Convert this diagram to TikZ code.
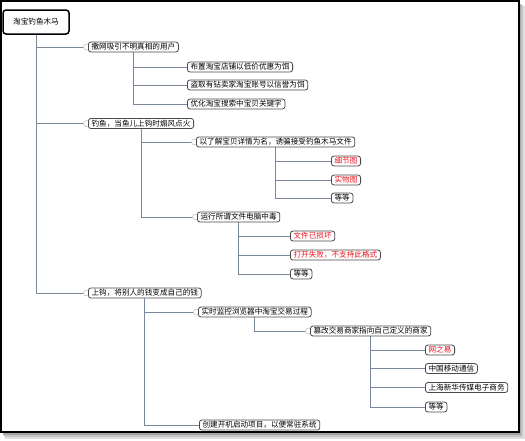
\documentclass[tikz,border=0pt]{standalone}
\usepackage{fontspec}
\newfontfamily\cjk{Noto Sans CJK SC}
\usetikzlibrary{backgrounds}
\definecolor{connc}{HTML}{7A8699}
\definecolor{boxc}{HTML}{4A4A4A}
\definecolor{redt}{HTML}{E8141E}
\tikzset{
  conn/.style={draw=connc, line width=1pt},
  mk/.style={draw=gray!45, line width=0.6pt, fill=white},
  topic/.style={draw=boxc, fill=white, rounded corners=2.5pt, line width=0.8pt,
    inner xsep=3.2pt, inner ysep=1.4pt, anchor=west, font=\cjk\fontsize{7.6pt}{8pt}\selectfont},
  redtopic/.style={topic, text=redt},
  rootbox/.style={draw=black, fill=white, rounded corners=3pt, line width=1.5pt,
    minimum width=66pt, minimum height=24pt, inner sep=0pt, font=\cjk\fontsize{7.6pt}{8pt}\selectfont}
}
\begin{document}
\begin{tikzpicture}[x=1pt,y=-1pt]
\useasboundingbox (0,0) rectangle (525,440);

\node[rootbox] (root) at (36,22) {淘宝钓鱼木马};

\node[topic] (n1) at (88,47) {撒网吸引不明真相的用户};
\node[topic] (n11) at (187,67) {布置淘宝店铺以低价优惠为饵};
\node[topic] (n12) at (187,85) {盗取有钻卖家淘宝账号以信誉为饵};
\node[topic] (n13) at (187,104) {优化淘宝搜索中宝贝关键字};

\node[topic] (n2) at (88,123.5) {钓鱼，当鱼儿上钩时煽风点火};
\node[topic] (n21) at (196,142) {以了解宝贝详情为名，诱骗接受钓鱼木马文件};
\node[redtopic] (n211) at (331,161) {细节图};
\node[redtopic] (n212) at (331,180) {实物图};
\node[topic] (n213) at (331,198) {等等};
\node[topic] (n22) at (197,217) {运行所谓文件电脑中毒};
\node[redtopic] (n221) at (290,236) {文件已损坏};
\node[redtopic] (n222) at (290,255) {打开失败，不支持此格式};
\node[topic] (n223) at (290,274) {等等};

\node[topic] (n3) at (88,293) {上钩，将别人的钱变成自己的钱};
\node[topic] (n31) at (198,312) {实时监控浏览器中淘宝交易过程};
\node[topic] (n311) at (310,331) {篡改交易商家指向自己定义的商家};
\node[redtopic] (n3111) at (425,350) {网之易};
\node[topic] (n3112) at (425,368.5) {中国移动通信};
\node[topic] (n3113) at (425,387.5) {上海新华传媒电子商务};
\node[topic] (n3114) at (425,407) {等等};
\node[topic] (n32) at (199,425) {创建开机启动项目，以便常驻系统};

\begin{scope}[on background layer]
\fill[gray!25] (5,6) rectangle (525,439);
\fill[gray!45] (4,5) rectangle (523,437);
\fill[gray!70] (3,4) rectangle (521,435);
\fill[white] (1,1) rectangle (519,432);
\foreach \p/\c in {root/n1, root/n2, root/n3,
                   n1/n11, n1/n12, n1/n13,
                   n2/n21, n2/n22,
                   n21/n211, n21/n212, n21/n213,
                   n22/n221, n22/n222, n22/n223,
                   n3/n31, n3/n32,
                   n31/n311,
                   n311/n3111, n311/n3112, n311/n3113, n311/n3114}
  {\draw[conn] (\p.south) |- (\c.west);}
\foreach \c in {n1, n2, n3, n21, n22, n31, n311}
  {\draw[mk] ([xshift=-1.5pt]\c.west) circle (3pt);}
\end{scope}
\draw[line width=1.2pt] (1,1) rectangle (519,432);
\end{tikzpicture}
\end{document}
